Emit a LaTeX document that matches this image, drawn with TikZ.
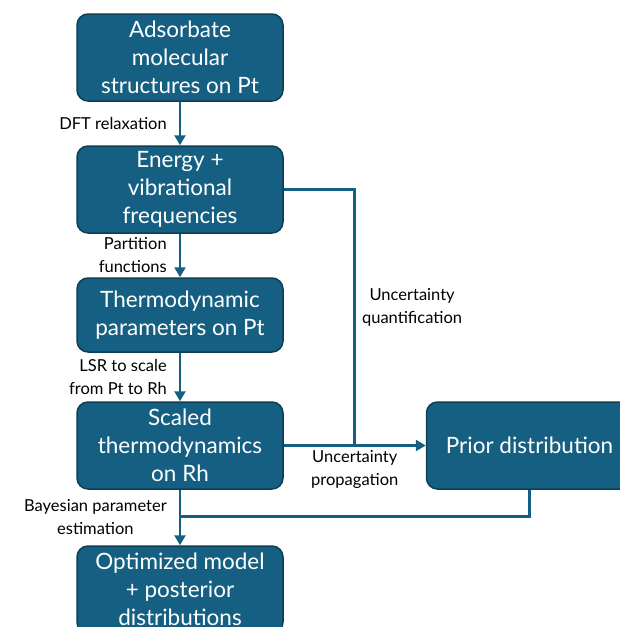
\documentclass[tikz,border=0pt]{standalone}
\usepackage{fontspec}
\setmainfont{Lato}
\usepackage{tikz}
\usetikzlibrary{positioning,arrows.meta}
\definecolor{boxblue}{RGB}{21,96,130}
\definecolor{boxedge}{RGB}{14,62,86}
\tikzset{
  stepbox/.style={draw=boxedge, line width=1.5pt, fill=boxblue, rounded corners=11pt,
    text=white, minimum width=206pt, minimum height=87pt, align=center,
    font=\fontsize{22.5}{28}\selectfont, inner sep=2pt},
  flow/.style={draw=boxblue, line width=2.6pt, -{Triangle[length=10pt,width=11pt]}},
  link/.style={draw=boxblue, line width=2.6pt},
  lbl/.style={font=\fontsize{16.5}{23}\selectfont, text=black, inner sep=4pt}
}

\begin{document}
\begin{tikzpicture}[x=1pt,y=1pt]
\useasboundingbox (0,0) rectangle (619,-627);
%Nodes
\node[stepbox]  (ads)    at (180,-57.5)            {Adsorbate\\molecular\\structures on Pt};
\node[stepbox]  (energy) [below=43.5pt of ads]     {Energy +\\vibrational\\frequencies};
\node[stepbox, minimum height=74pt]
                (thermo) [below=43.5pt of energy]  {Thermodynamic\\parameters on Pt};
\node[stepbox]  (scaled) [below=48.5pt of thermo]  {Scaled\\thermodynamics\\on Rh};
\node[stepbox]  (optim)  [below=55.5pt of scaled]  {Optimized model\\+ posterior\\distributions};
\node[stepbox]  (prior)  [right=142pt of scaled]   {Prior distribution};
\path (energy.east) ++(71,0) coordinate (uq);
\path (prior.south) ++(0,-27) coordinate (pjoin);

%Lines
\draw[flow]   (ads) -- (energy)
    node[lbl, midway, left=8pt]{DFT relaxation};
\draw[flow]   (energy) -- (thermo)
    node[lbl, midway, left=8pt, align=right]{Partition\\functions};
\draw[flow]   (thermo) -- (scaled)
    node[lbl, midway, left=8pt, align=right]{LSR to scale\\from Pt to Rh};
\draw[flow]   (scaled) -- (optim)
    node[lbl, midway, left=8pt, align=center]{Bayesian parameter\\estimation};
\draw[flow]   (scaled) -- (prior)
    node[lbl, midway, below, align=center]{Uncertainty\\propagation};
\draw[link]   (energy.east) -- (uq) -- (uq |- scaled.east)
    node[lbl, pos=0.46, right=2pt, align=center]{Uncertainty\\quantification};
\draw[link]   (prior.south) -- (pjoin) -- (pjoin -| scaled);
\end{tikzpicture}
\end{document}
